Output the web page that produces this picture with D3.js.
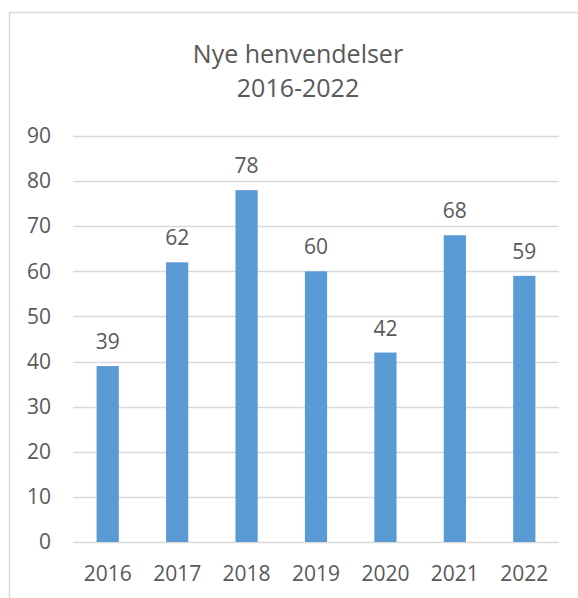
<!DOCTYPE html>
<html>
<head>
<meta charset="utf-8">
<script src="https://cdn.jsdelivr.net/npm/d3@7"></script>
<style>
    body { margin: 0; background: #fff; }
    text { font-family: "Open Sans", sans-serif; fill: #595959; }
</style>
</head>
<body>
<div id="chart"></div>
<script>
var years = ["2016", "2017", "2018", "2019", "2020", "2021", "2022"];
var counts = [39, 62, 78, 60, 42, 68, 59];
var yTicks = [0, 10, 20, 30, 40, 50, 60, 70, 80, 90];
var titleLines = ["Nye henvendelser", "2016-2022"];

var width = 578,
    height = 598;

var margin = {left: 73, right: 19, top: 136, bottom: 56};

var svg = d3.select("#chart")
    .append("svg")
    .attr("width", width)
    .attr("height", height);

// chart border
svg.append("rect")
    .attr("x", 9.5)
    .attr("y", 12.5)
    .attr("width", width + 10)
    .attr("height", height + 10)
    .attr("fill", "none")
    .attr("stroke", "#d9d9d9")
    .attr("stroke-width", 1.5);

var x = d3.scaleBand()
    .domain(years)
    .range([margin.left, width - margin.right])
    .paddingInner(0.68)
    .paddingOuter(0.34);

var y = d3.scaleLinear()
    .domain([0, 90])
    .range([height - margin.bottom, margin.top]);

// gridlines
svg.append("g")
    .selectAll("line")
    .data(yTicks)
    .enter().append("line")
    .attr("x1", margin.left)
    .attr("x2", width - margin.right)
    .attr("y1", function (d) { return Math.round(y(d)) + 0.5; })
    .attr("y2", function (d) { return Math.round(y(d)) + 0.5; })
    .attr("stroke", "#d9d9d9")
    .attr("stroke-width", 1.5);

var yAxis = d3.axisLeft(y)
    .tickValues(yTicks)
    .tickSize(0)
    .tickPadding(22);

svg.append("g")
    .attr("transform", "translate(" + margin.left + ",0)")
    .call(yAxis)
    .call(function (g) { g.select(".domain").remove(); })
    .selectAll("text")
    .attr("font-size", "21px")
    .attr("font-family", "Open Sans, sans-serif")
    .attr("fill", "#595959");

var xAxis = d3.axisBottom(x)
    .tickSize(0)
    .tickPadding(24);

svg.append("g")
    .attr("transform", "translate(0," + (height - margin.bottom) + ")")
    .call(xAxis)
    .call(function (g) { g.select(".domain").remove(); })
    .selectAll("text")
    .attr("font-size", "21px")
    .attr("font-family", "Open Sans, sans-serif")
    .attr("fill", "#595959");

svg.append("g")
    .selectAll("rect")
    .data(counts)
    .enter().append("rect")
    .attr("x", function (d, i) { return x(years[i]); })
    .attr("y", function (d) { return y(d); })
    .attr("width", x.bandwidth())
    .attr("height", function (d) { return y(0) - y(d); })
    .attr("fill", "#5b9bd5");

svg.append("g")
    .selectAll("text")
    .data(counts)
    .enter().append("text")
    .attr("x", function (d, i) { return x(years[i]) + x.bandwidth() / 2; })
    .attr("y", function (d) { return y(d) - 17; })
    .attr("text-anchor", "middle")
    .attr("font-size", "21px")
    .text(function (d) { return d; });

svg.append("g")
    .selectAll("text")
    .data(titleLines)
    .enter().append("text")
    .attr("x", 298)
    .attr("y", function (d, i) { return 63 + i * 34; })
    .attr("text-anchor", "middle")
    .attr("font-size", "25px")
    .text(function (d) { return d; });
</script>
</body>
</html>
